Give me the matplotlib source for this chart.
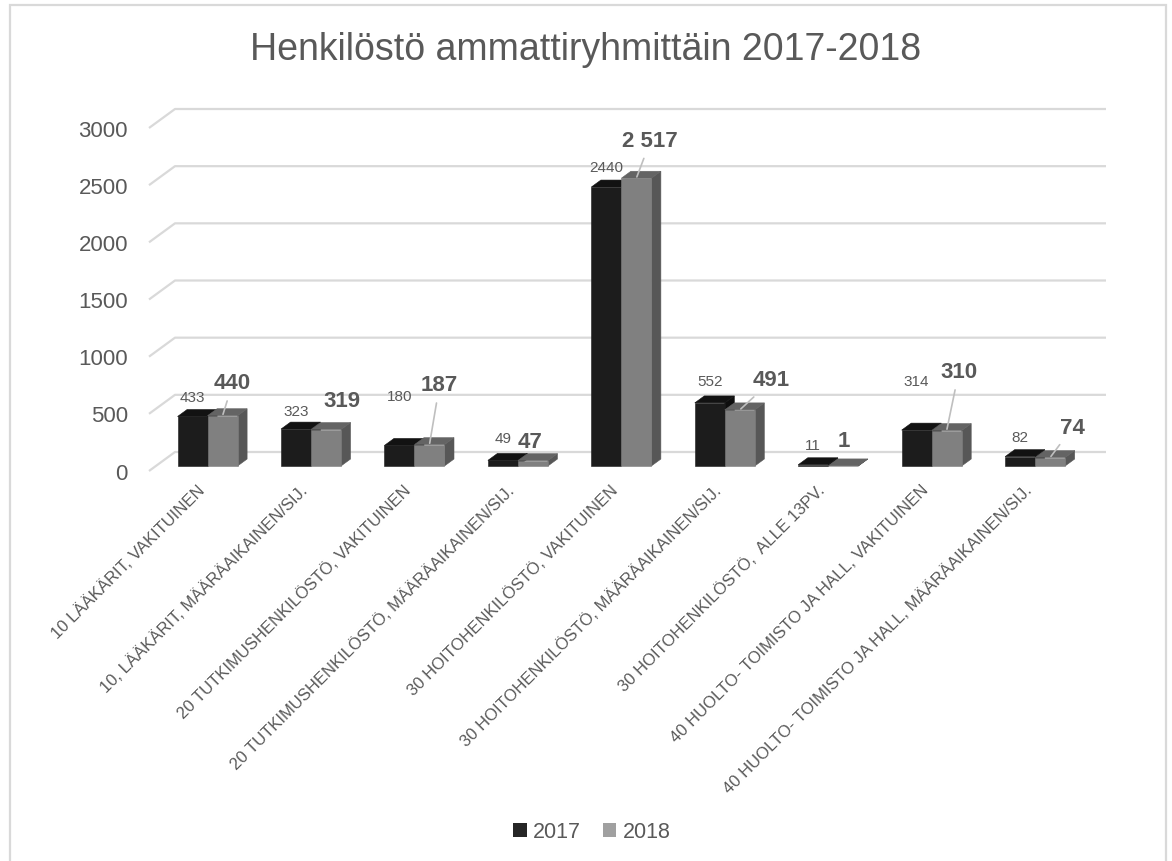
import matplotlib
matplotlib.use('Agg')
import matplotlib.pyplot as plt
from matplotlib.patches import Polygon, Patch, Rectangle

# ---------------- data ----------------
title = 'Henkilöstö ammattiryhmittäin 2017-2018'
categories = [
    '10 LÄÄKÄRIT, VAKITUINEN',
    '10, LÄÄKÄRIT, MÄÄRÄAIKAINEN/SIJ.',
    '20 TUTKIMUSHENKILÖSTÖ, VAKITUINEN',
    '20 TUTKIMUSHENKILÖSTÖ, MÄÄRÄAIKAINEN/SIJ.',
    '30 HOITOHENKILÖSTÖ, VAKITUINEN',
    '30 HOITOHENKILÖSTÖ, MÄÄRÄAIKAINEN/SIJ.',
    '30 HOITOHENKILÖSTÖ,  ALLE 13PV.',
    '40 HUOLTO- TOIMISTO JA HALL, VAKITUINEN',
    '40 HUOLTO- TOIMISTO JA HALL, MÄÄRÄAIKAINEN/SIJ.',
]
series_names = ['2017', '2018']
values_2017 = [433, 323, 180, 49, 2440, 552, 11, 314, 82]
values_2018 = [440, 319, 187, 47, 2517, 491, 1, 310, 74]
y_ticks = [0, 500, 1000, 1500, 2000, 2500, 3000]

# ---------------- layout / style ----------------
W, H = 1172, 861
FONT = 'Liberation Sans'
TXT = '#595959'
GRID = '#d9d9d9'
plt.rcParams['font.family'] = [FONT, 'DejaVu Sans']

# label offsets (pixels, x right / y up, to label centre) relative to bar front-top centre
off_2017 = [20, 19, 50, 23, 21, 22, 20, 50, 20]
off_2018 = [(10, 32), (15.5, 28.5), (10, 59), (-2.5, 18), (14, 37),
            (31.5, 29), (1, 24), (12, 58), (22, 29.5)]
leader_2018 = [True, False, True, False, True, True, False, True, True]

fig = plt.figure(figsize=(W / 100, H / 100), dpi=100)
fig.patch.set_facecolor('white')
ax = fig.add_axes([175 / W, 1 - 452 / H, 931 / W, 343 / H])
n = len(categories)
ax.set_xlim(-0.5, n - 0.5)
ax.set_ylim(0, 3000)
ax.axis('off')

px_x = 931 / n          # pixels per category unit
px_y = 343 / 3000       # pixels per value unit
DX = -26 / px_x         # full depth shift (front plane) in data units
DY = -19 / px_y
d_front, d_back = 0.737, 0.37
bw = 0.29


def proj(x, v, d):
    return (x + d * DX, v + d * DY)


# gridlines (back wall + left wall diagonal)
for v in y_ticks:
    p0 = proj(-0.5, v, 1.0)
    ax.plot([p0[0], -0.5, n - 0.5], [p0[1], v, v], color=GRID, lw=1.6,
            clip_on=False, zorder=1, solid_capstyle='butt')
    ax.annotate(str(v), xy=p0, xytext=(-21, -8.5), textcoords='offset pixels',
                ha='right', va='baseline', fontsize=16, color=TXT,
                annotation_clip=False)

colors = {
    0: dict(front='#1c1c1c', top='#121212', side='#0e0e0e'),
    1: dict(front='#808080', top='#646464', side='#575757'),
}


def draw_bar(x0, x1, v, c, z):
    side = [proj(x1, 0, d_front), proj(x1, 0, d_back), proj(x1, v, d_back), proj(x1, v, d_front)]
    top = [proj(x0, v, d_front), proj(x1, v, d_front), proj(x1, v, d_back), proj(x0, v, d_back)]
    front = [proj(x0, 0, d_front), proj(x1, 0, d_front), proj(x1, v, d_front), proj(x0, v, d_front)]
    for pts, key in ((side, 'side'), (top, 'top'), (front, 'front')):
        ax.add_patch(Polygon(pts, closed=True, fc=c[key], ec=c[key], lw=0.4,
                             clip_on=False, zorder=z))


for i in range(n):
    v17, v18 = values_2017[i], values_2018[i]
    draw_bar(i - bw, i, v17, colors[0], 3)
    draw_bar(i, i + bw, v18, colors[1], 4)

    # 2017 label
    xy = proj(i - bw / 2, v17, d_front)
    ax.annotate(str(v17), xy=xy, xytext=(0, off_2017[i] - 5.5), textcoords='offset pixels',
                ha='center', va='baseline', fontsize=11, color=TXT, annotation_clip=False,
                zorder=6)
    # 2018 label
    xy = proj(i + bw / 2, v18, d_front)
    lab = f'{v18:,}'.replace(',', ' ')
    dx, dy = off_2018[i]
    kw = {}
    if leader_2018[i]:
        kw['arrowprops'] = dict(arrowstyle='-', color='#bfbfbf', lw=1.2,
                                shrinkA=3, shrinkB=1)
    ax.annotate(lab, xy=xy, xytext=(dx, dy), textcoords='offset pixels',
                ha='center', va='center', fontsize=16, fontweight='bold', color=TXT,
                annotation_clip=False, zorder=6, **kw)

    # category label
    ax.annotate(categories[i], xy=proj(i, 0, 1.0), xytext=(1, -17), textcoords='offset pixels',
                ha='right', va='center', rotation=45, rotation_mode='anchor',
                fontsize=12, color=TXT, annotation_clip=False)

# title
fig.text(586 / W, 1 - 60 / H, title, ha='center', va='baseline', fontsize=27, color=TXT)

# legend
handles = [Patch(fc='#262626', ec='none'), Patch(fc='#a0a0a0', ec='none')]
fig.legend(handles, series_names, loc='center', bbox_to_anchor=(592 / W, 1 - 832 / H),
           ncol=2, frameon=False, fontsize=15.5, handlelength=0.62, handleheight=0.62,
           handletextpad=0.3, columnspacing=1.0, labelcolor=TXT)

# chart area border
fig.patches.append(Rectangle((10 / W, -0.02), (1166 - 10) / W, 1 - 5 / H + 0.02,
                             transform=fig.transFigure, fill=False, ec=GRID, lw=1.6))

fig.savefig('out.png', dpi=100, facecolor='white')
